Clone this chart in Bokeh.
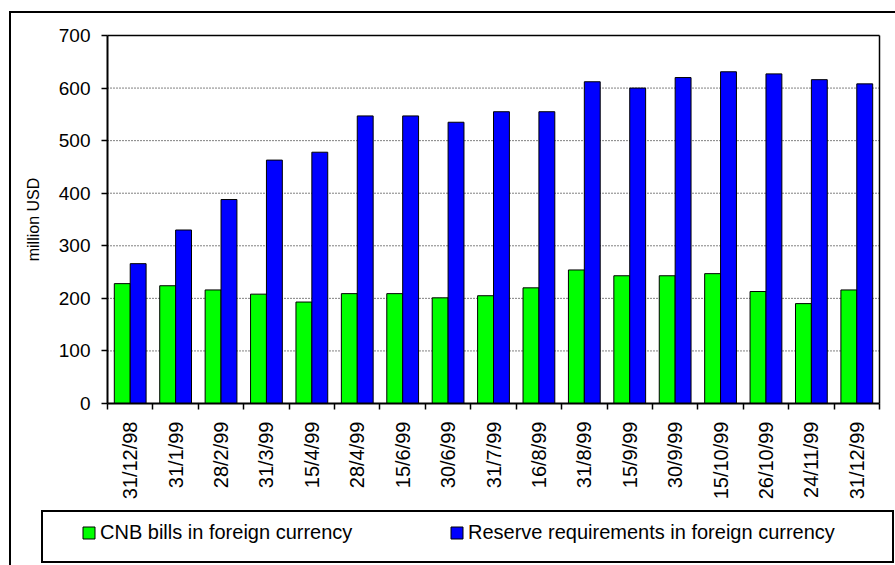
import math
from bokeh.plotting import figure
from bokeh.models import ColumnDataSource, Range1d, FixedTicker, Legend, LegendItem
from bokeh.transform import dodge
from bokeh.embed import file_html
from bokeh.resources import INLINE

dates = ["31/12/98", "31/1/99", "28/2/99", "31/3/99", "15/4/99", "28/4/99", "15/6/99",
         "30/6/99", "31/7/99", "16/8/99", "31/8/99", "15/9/99", "30/9/99", "15/10/99",
         "26/10/99", "24/11/99", "31/12/99"]
cnb_bills = [228, 224, 216, 208, 193, 209, 209, 201, 205, 220, 254, 243, 243, 247, 213, 190, 216]
reserve_req = [266, 330, 388, 463, 478, 547, 547, 535, 555, 555, 612, 600, 620, 631, 627, 616, 608]
y_ticks = [0, 100, 200, 300, 400, 500, 600, 700]
series_names = ["CNB bills in foreign currency", "Reserve requirements in foreign currency"]

n = len(dates)
idx = list(range(n))
src = ColumnDataSource(dict(x=idx, cnb=cnb_bills, res=reserve_req))

FONT = "Liberation Sans"

# page layout (pixels): the plotting area of the chart inside a full-canvas frame
W, H = 895, 565
PL, PR, PT, PB = 107, 879, 35, 403
x_lo, x_hi = -0.5, n - 0.5
y_lo, y_hi = y_ticks[0], y_ticks[-1]
ppx = (PR - PL) / (x_hi - x_lo)
ppy = (PB - PT) / (y_hi - y_lo)
x_range = Range1d(x_lo - PL / ppx, x_hi + (W - PR) / ppx)
y_range = Range1d(y_lo - (H - PB) / ppy, y_hi + PT / ppy)

# outer chart frame (left + top edges) and legend box, drawn as page background lines
LINE = "linear-gradient(#000,#000)"
frame_css = ", ".join([
    f"{LINE} 9px 11px / 2px 600px no-repeat",
    f"{LINE} 9px 11px / 900px 2px no-repeat",
    f"{LINE} 41px 510px / 853px 2px no-repeat",
    f"{LINE} 41px 561px / 853px 2px no-repeat",
    f"{LINE} 41px 510px / 2px 53px no-repeat",
    f"{LINE} 892px 510px / 2px 53px no-repeat",
    "#ffffff",
])

p = figure(width=W, height=H, output_backend="svg", toolbar_location=None,
           x_range=x_range, y_range=y_range,
           min_border_left=0, min_border_right=0, min_border_top=0, min_border_bottom=0,
           background_fill_alpha=0, border_fill_alpha=0, outline_line_alpha=0)
p.styles = {"background": frame_css}
p.xgrid.visible = False
p.ygrid.visible = False

# dotted horizontal gridlines limited to the plotting area
grid_y = y_ticks[1:-1]
grid_src = ColumnDataSource(dict(x0=[x_lo] * len(grid_y), x1=[x_hi] * len(grid_y), y=grid_y))
p.segment(x0="x0", y0="y", x1="x1", y1="y", source=grid_src,
          line_color="black", line_width=1, line_dash="1 2")
# plot-area border: top and right edges
border_src = ColumnDataSource(dict(x0=[x_lo, x_hi], y0=[y_hi, y_lo], x1=[x_hi, x_hi], y1=[y_hi, y_hi]))
p.segment(x0="x0", y0="y0", x1="x1", y1="y1", source=border_src,
          line_color="black", line_width=1.5)

g = p.vbar(x=dodge("x", -0.175, range=p.x_range), top="cnb", width=0.35, source=src,
           fill_color="#00FF00", line_color="black", line_width=1)
b = p.vbar(x=dodge("x", 0.175, range=p.x_range), top="res", width=0.35, source=src,
           fill_color="#0000FF", line_color="black", line_width=1)

# x axis: labels at centres, tick marks at category boundaries
xa = p.xaxis[0]
xa.fixed_location = y_lo
xa.bounds = (x_lo, x_hi)
xa.ticker = FixedTicker(ticks=idx, minor_ticks=[i - 0.5 for i in range(n + 1)])
xa.major_label_overrides = {i: d for i, d in enumerate(dates)}
xa.major_label_orientation = math.pi / 2
xa.major_tick_out = 0
xa.major_tick_in = 0
xa.minor_tick_out = 6
xa.minor_tick_in = 0
xa.minor_tick_line_color = "black"
xa.minor_tick_line_width = 1.5
xa.axis_line_color = "black"
xa.axis_line_width = 2
xa.major_label_text_font = FONT
xa.major_label_text_font_size = "20px"
xa.major_label_text_color = "black"
xa.major_label_standoff = 12

ya = p.yaxis[0]
ya.fixed_location = x_lo
ya.bounds = (y_lo, y_hi)
ya.ticker = FixedTicker(ticks=y_ticks)
ya.major_tick_out = 6
ya.major_tick_in = 0
ya.minor_tick_out = 0
ya.minor_tick_in = 0
ya.major_tick_line_color = "black"
ya.major_tick_line_width = 1.5
ya.axis_line_color = "black"
ya.axis_line_width = 2
ya.major_label_text_font = FONT
ya.major_label_text_font_size = "19px"
ya.major_label_text_color = "black"
ya.major_label_standoff = 11
ya.axis_label = "million USD"
ya.axis_label_text_font = FONT
ya.axis_label_text_font_size = "16px"
ya.axis_label_text_font_style = "normal"
ya.axis_label_text_color = "black"
ya.axis_label_standoff = 14

legend = Legend(items=[LegendItem(label=series_names[0], renderers=[g]),
                       LegendItem(label=series_names[1], renderers=[b])],
                orientation="horizontal", location=(81, 21),
                padding=0, spacing=0, margin=0,
                glyph_width=15, glyph_height=15, label_height=15, label_width=349,
                label_standoff=4, label_text_font=FONT, label_text_font_size="20px",
                label_text_color="black",
                border_line_alpha=0, background_fill_alpha=0)
p.add_layout(legend)

open("out.html", "w").write(file_html(p, INLINE))
